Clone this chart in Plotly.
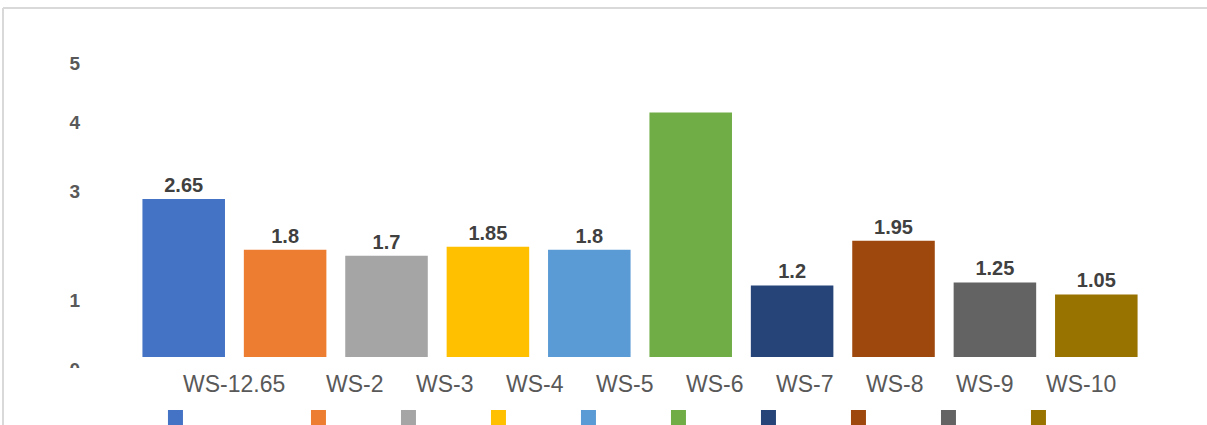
import plotly.graph_objects as go

# data
categories = ["WS-12.65", "WS-2", "WS-3", "WS-4", "WS-5", "WS-6", "WS-7", "WS-8", "WS-9", "WS-10"]
values = [2.65, 1.8, 1.7, 1.85, 1.8, 4.1, 1.2, 1.95, 1.25, 1.05]
value_labels = ["2.65", "1.8", "1.7", "1.85", "1.8", "", "1.2", "1.95", "1.25", "1.05"]
colors = ["#4472C4", "#ED7D31", "#A5A5A5", "#FFC000", "#5B9BD5",
          "#70AD47", "#264478", "#9E480E", "#636363", "#997300"]
y_tick_pos = [-0.2, 0.95, 2.77, 3.93, 4.92]
y_tick_text = ["0", "1", "3", "4", "5"]

FONT = "Liberation Sans"

fig = go.Figure()

# bars
for cat, val, lab, col in zip(categories, values, value_labels, colors):
    fig.add_trace(go.Bar(
        x=[cat], y=[val], name=cat, showlegend=False,
        marker=dict(color=col, line=dict(width=0)),
        text=[lab], textposition="outside", cliponaxis=False,
        textfont=dict(family=FONT, size=20, color="#404040", weight="bold"),
    ))

# legend squares (bottom row) and the category names above them
n = len(categories)
for i, (cat, col) in enumerate(zip(categories, colors)):
    # entry widths follow the text length; the last one just needs room
    lw = 98 if i == 0 else (80 if i == n - 1 else 45)
    fig.add_trace(go.Scatter(
        x=[None], y=[None], mode="markers", name=cat,
        marker=dict(color=col, size=15, symbol="square"),
        legend="legend", legendwidth=lw, hoverinfo="skip",
    ))
    fig.add_trace(go.Scatter(
        x=[None], y=[None], mode="markers", name=cat,
        marker=dict(color="rgba(0,0,0,0)", size=1),
        legend="legend2", legendwidth=lw, hoverinfo="skip",
    ))

frame = dict(color="#d9d9d9", width=2)

fig.update_layout(
    width=1207, height=425,
    margin=dict(l=0, r=0, t=0, b=0, autoexpand=False),
    paper_bgcolor="white", plot_bgcolor="white",
    barmode="overlay", bargap=0.186,
    xaxis=dict(domain=[0.1102, 0.9503], showticklabels=False, showgrid=False,
               zeroline=False, showline=False, fixedrange=True),
    yaxis=dict(domain=[0.1318, 0.9318], range=[-0.2, 5.5], showgrid=False,
               zeroline=False, showline=False,
               tickmode="array", tickvals=y_tick_pos, ticktext=y_tick_text,
               tickfont=dict(family=FONT, size=19, color="#595959", weight="bold"),
               ticklabelstandoff=52),
    legend=dict(orientation="h", x=0.1288, xanchor="left", y=0.0176, yanchor="middle",
                font=dict(family=FONT, size=12, color="rgba(0,0,0,0)"),
                bgcolor="rgba(0,0,0,0)", traceorder="normal"),
    legend2=dict(orientation="h", x=0.1185, xanchor="left", y=0.0976, yanchor="middle",
                 font=dict(family=FONT, size=23, color="#595959"),
                 bgcolor="rgba(0,0,0,0)", traceorder="normal"),
    shapes=[
        # chart frame: only its top and left edges fall inside the picture
        dict(type="line", xref="paper", yref="paper", x0=0.0025, x1=1.0, y0=0.9812, y1=0.9812,
             line=frame, layer="below"),
        dict(type="line", xref="paper", yref="paper", x0=0.0025, x1=0.0025, y0=0.0, y1=0.9812,
             line=frame, layer="below"),
        # the "0" tick label is cut off in the source
        dict(type="rect", xref="paper", yref="paper", x0=0.03, x1=0.1, y0=-0.1, y1=0.1341,
             fillcolor="white", line=dict(width=0), layer="above"),
    ],
)

fig.write_html("out.html", config={"displayModeBar": False, "staticPlot": True},
               post_script="document.body.style.margin = '0px'; document.body.style.overflow = 'hidden';")
